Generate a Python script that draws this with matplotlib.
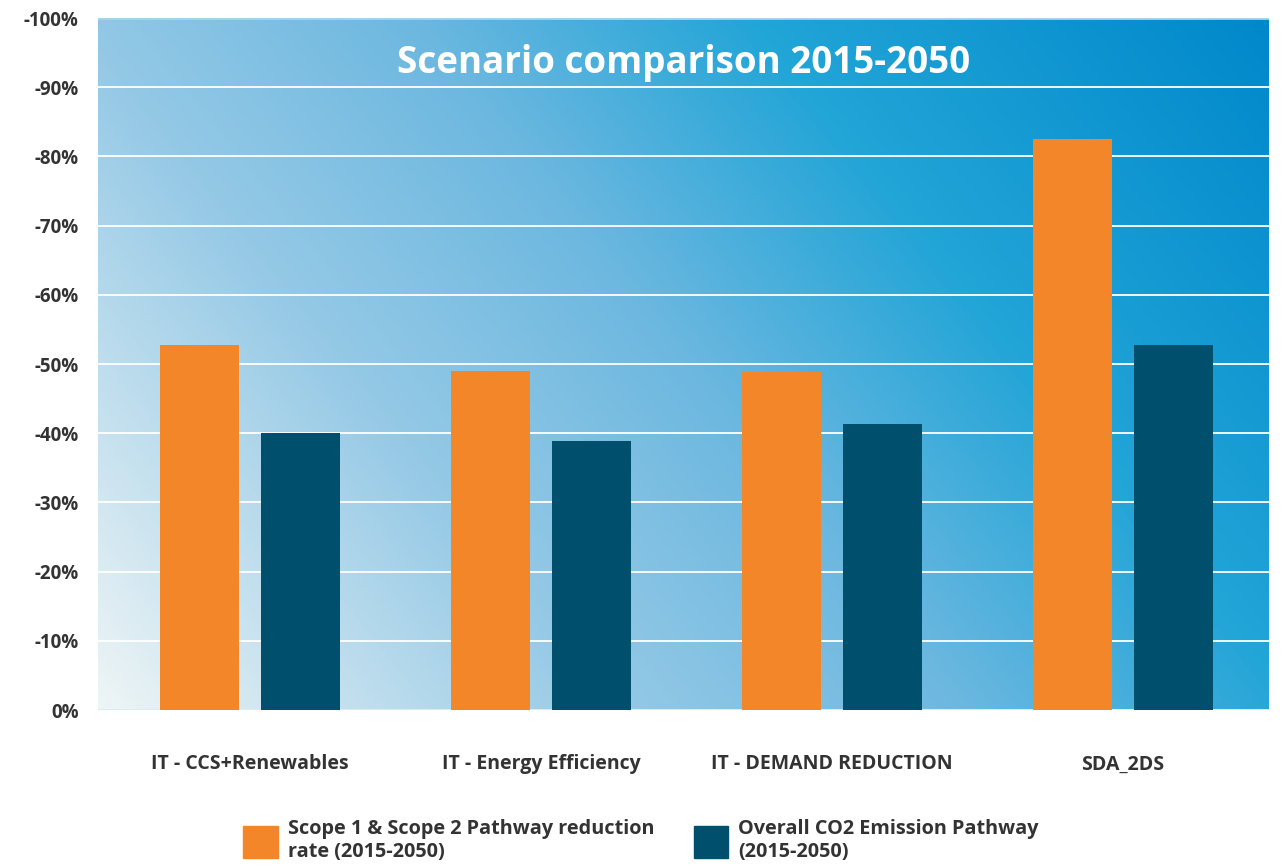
import matplotlib
matplotlib.use("Agg")
import matplotlib.pyplot as plt
import numpy as np
from matplotlib.colors import LinearSegmentedColormap
from matplotlib.patches import Patch

plt.rcParams['font.family'] = ['Open Sans', 'DejaVu Sans']

categories = ["IT - CCS+Renewables", "IT - Energy Efficiency", "IT - DEMAND REDUCTION", "SDA_2DS"]
scope12 = [52.7, 49.0, 48.9, 82.5]
overall = [40.0, 38.9, 41.3, 52.7]
series_names = ["Scope 1 & Scope 2 Pathway reduction\nrate (2015-2050)",
                "Overall CO2 Emission Pathway\n(2015-2050)"]
yticks = [0, 10, 20, 30, 40, 50, 60, 70, 80, 90, 100]

orange = "#F4862A"
teal = "#00506D"
text_col = "#333333"

fig = plt.figure(figsize=(12.84, 8.66), dpi=100)
ax = fig.add_axes([98/1284, 156/866, 1171/1284, 692/866])

# gradient background
cmap = LinearSegmentedColormap.from_list("bg", [
    (0.0, "#eef5f6"), (0.3, "#95c9e6"), (0.5, "#6db8e0"),
    (0.7, "#22a5d7"), (1.0, "#0088cb")])
gx, gy = np.meshgrid(np.linspace(0, 1, 400), np.linspace(0, 1, 300))
grad = 0.68 * gx + 0.32 * gy
ax.imshow(grad, cmap=cmap, extent=[0, 1, 0, 1], origin="lower",
          transform=ax.transAxes, aspect="auto", zorder=0, vmin=0, vmax=1)

x = np.arange(len(categories))
w = 0.27
off = 0.173
ax.bar(x - off, scope12, w, color=orange, zorder=3)
ax.bar(x + off, overall, w, color=teal, zorder=3)

ax.set_xlim(-0.522, 3.502)
ax.set_ylim(0, 100)
ax.set_yticks(yticks)
ax.set_yticklabels([f"-{v}%" if v else "0%" for v in yticks],
                   fontsize=13.5, fontweight="bold", color=text_col)
ax.set_xticks(x)
ax.set_xticklabels(categories, fontsize=14, fontweight="bold", color=text_col)
ax.tick_params(axis="both", length=0)
ax.tick_params(axis="y", pad=14)
ax.tick_params(axis="x", pad=32)
ax.grid(axis="y", color="white", lw=1.3, zorder=1)
ax.set_axisbelow(True)
for s in ax.spines.values():
    s.set_visible(False)
ax.axhline(0, color="#d6ebf3", lw=2, zorder=2)
ax.axhline(100, color="#a9d3ea", lw=2, zorder=2)

ax.text(0.5, 0.935, "Scenario comparison 2015-2050", transform=ax.transAxes,
        ha="center", va="center", color="white", fontsize=26.5, fontweight="bold", zorder=4)

handles = [Patch(color=orange), Patch(color=teal)]
fig.legend(handles, series_names, loc="center left", bbox_to_anchor=(0.1752, 0.029),
           ncol=2, frameon=False, handlelength=1.75, handleheight=2.15,
           columnspacing=2.0, handletextpad=0.5,
           prop={"size": 14.3, "weight": "bold"}, labelcolor=text_col)

fig.savefig("out.png", dpi=100)
